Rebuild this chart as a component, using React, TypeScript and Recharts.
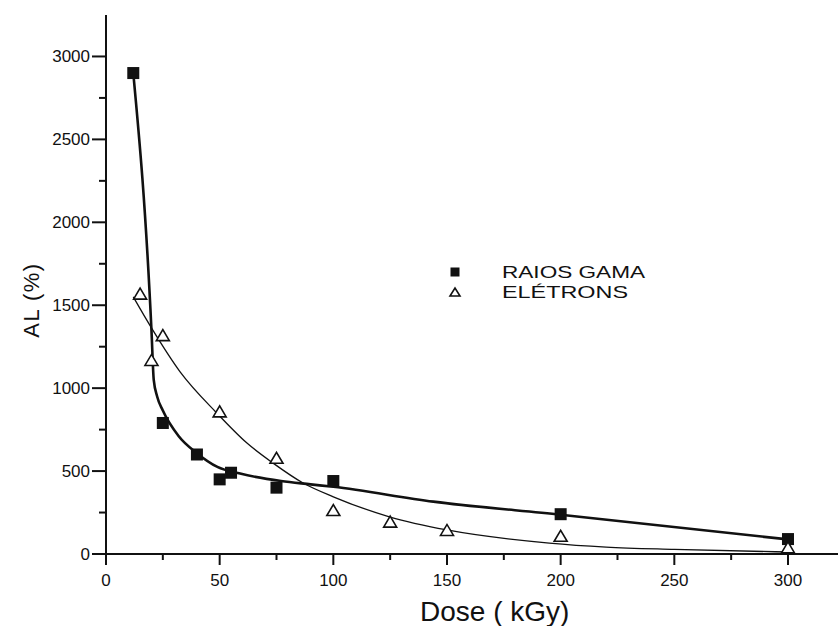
import { ComposedChart, Legend, Line, Scatter, XAxis, YAxis } from "recharts";

// measured points
const doseGama = [12, 25, 40, 50, 55, 75, 100, 200, 300];
const alGama = [2900, 790, 600, 450, 490, 400, 440, 240, 90];
const doseEletrons = [15, 20, 25, 50, 75, 100, 125, 150, 200, 300];
const alEletrons = [1570, 1170, 1320, 860, 580, 265, 195, 145, 110, 40];

// fitted curves
const fitGamaDose = [12, 20, 21, 22.5, 25, 32, 40, 49, 59, 77, 90, 100, 144, 200, 300];
const fitGamaAL = [2900, 1350, 1050, 950, 865, 710, 608, 525, 485, 440, 420, 405, 316, 237, 88];
const fitEletronsDose = [12, 20, 32.6, 48.8, 62, 73.5, 86.7, 100, 125, 150, 195, 220, 250, 300];
const fitEletronsAL = [1550, 1363, 1098, 849, 669, 548, 428, 345, 223, 145, 66, 42, 28, 12];

const xTicks = [0, 25, 50, 75, 100, 125, 150, 175, 200, 225, 250, 275, 300];
const yTicks = [0, 250, 500, 750, 1000, 1250, 1500, 1750, 2000, 2250, 2500, 2750, 3000];

const ink = "#111";
const font = "'Liberation Sans', Arial, sans-serif";

const zip = (xs: number[], ys: number[]) => xs.map((x, i) => ({ x, y: ys[i] }));
const gama = zip(doseGama, alGama);
const eletrons = zip(doseEletrons, alEletrons);
const fitGama = zip(fitGamaDose, fitGamaAL);
const fitEletrons = zip(fitEletronsDose, fitEletronsAL);

const Square = ({ cx, cy, side = 12 }: any) => (
	<rect x={cx - side / 2} y={cy - side / 2} width={side} height={side} fill={ink} />
);

const Triangle = ({ cx, cy, tw = 13, th = 11 }: any) => (
	<polygon
		points={`${cx - tw / 2},${cy + th / 2} ${cx + tw / 2},${cy + th / 2} ${cx},${cy - th / 2}`}
		fill="#fff"
		stroke={ink}
		strokeWidth={1.6}
	/>
);

const YTick = ({ x, y, payload }: any) => {
	const major = payload.value % 500 === 0;
	return (
		<g>
			<line x1={x - (major ? 14 : 7)} x2={x} y1={y} y2={y} stroke={ink} strokeWidth={2} />
			{major && (
				<text
					x={x - 16}
					y={y}
					textAnchor="end"
					dominantBaseline="central"
					fontSize={17}
					fill={ink}
					fontFamily={font}>
					{payload.value}
				</text>
			)}
		</g>
	);
};

const XTick = ({ x, y, payload }: any) => {
	const major = payload.value % 50 === 0;
	return (
		<g>
			<line x1={x} x2={x} y1={y} y2={y + (major ? 11 : 6)} stroke={ink} strokeWidth={2} />
			{major && (
				<text
					x={x}
					y={y + 26}
					textAnchor="middle"
					dominantBaseline="central"
					fontSize={17}
					fill={ink}
					fontFamily={font}>
					{payload.value}
				</text>
			)}
		</g>
	);
};

const LegendBox = () => (
	<svg width={220} height={44} style={{ fontFamily: font }}>
		<Square cx={15} cy={12} side={9} />
		<text
			x={62}
			y={12}
			dominantBaseline="central"
			fontSize={17}
			fill={ink}
			textLength={143}
			lengthAdjust="spacingAndGlyphs">
			RAIOS GAMA
		</text>
		<Triangle cx={15} cy={32} tw={10} th={8} />
		<text
			x={62}
			y={32}
			dominantBaseline="central"
			fontSize={17}
			fill={ink}
			textLength={126}
			lengthAdjust="spacingAndGlyphs">
			ELÉTRONS
		</text>
	</svg>
);

const App = () => {
	return (
		<div style={{ position: "absolute", left: 0, top: 0, background: "#fff" }}>
			<ComposedChart width={838} height={626} margin={{ top: 15, right: 0, bottom: 0, left: 0 }}>
				<XAxis
					type="number"
					dataKey="x"
					domain={[0, 322]}
					ticks={xTicks}
					interval={0}
					tickSize={0}
					tickMargin={0}
					tickLine={false}
					tick={<XTick />}
					axisLine={{ stroke: ink, strokeWidth: 2 }}
					height={72}
					label={{
						content: () => (
							<text x={420} y={621} fontSize={28} fill={ink} fontFamily={font}>
								Dose ( kGy)
							</text>
						),
					}}
				/>
				<YAxis
					type="number"
					dataKey="y"
					domain={[0, 3250]}
					ticks={yTicks}
					interval={0}
					width={106}
					tickSize={0}
					tickMargin={0}
					tickLine={false}
					tick={<YTick />}
					axisLine={{ stroke: ink, strokeWidth: 2 }}
					label={{
						content: () => (
							<text
								x={39}
								y={300}
								transform="rotate(-90 39 300)"
								textAnchor="middle"
								fontSize={22}
								letterSpacing={1.5}
								fill={ink}
								fontFamily={font}>
								AL (%)
							</text>
						),
					}}
				/>
				<Legend
					layout="horizontal"
					verticalAlign="middle"
					content={<LegendBox />}
					wrapperStyle={{ position: "absolute", left: 440, top: 260, width: 220 }}
				/>
				<Line
					data={fitEletrons}
					dataKey="y"
					type="monotone"
					stroke={ink}
					strokeWidth={1.3}
					dot={false}
					activeDot={false}
					isAnimationActive={false}
					legendType="none"
				/>
				<Line
					data={fitGama}
					dataKey="y"
					type="monotone"
					stroke={ink}
					strokeWidth={2.6}
					dot={false}
					activeDot={false}
					isAnimationActive={false}
					legendType="none"
				/>
				<Scatter name="RAIOS GAMA" data={gama} shape={<Square />} isAnimationActive={false} />
				<Scatter name="ELÉTRONS" data={eletrons} shape={<Triangle />} isAnimationActive={false} />
			</ComposedChart>
		</div>
	);
};

export default App;
